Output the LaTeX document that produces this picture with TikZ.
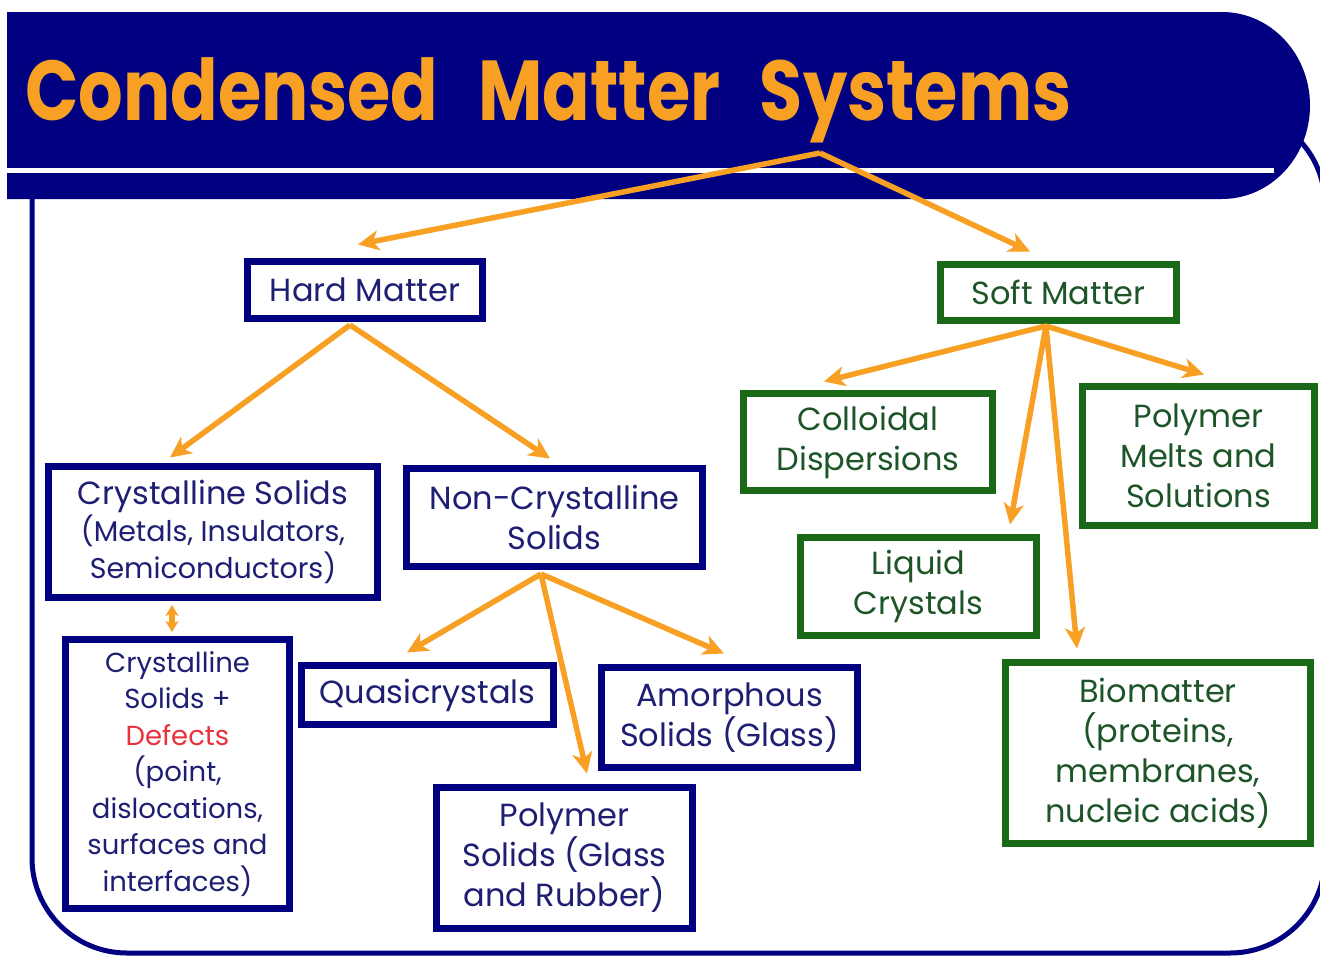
\documentclass[tikz,border=0pt]{standalone}
\usepackage{fontspec}
\setmainfont{Poppins}
\usetikzlibrary{arrows.meta,calc}
\definecolor{navy}{RGB}{0,0,128}
\definecolor{org}{RGB}{247,160,35}
\definecolor{txtblue}{RGB}{30,30,115}
\definecolor{grn}{RGB}{25,105,25}
\definecolor{txtgrn}{RGB}{30,85,40}
\definecolor{defred}{RGB}{232,50,60}
\begin{document}
\begin{tikzpicture}[x=1pt,y=-1pt,
  bluebox/.style={draw=navy,line width=7pt,fill=white,text=txtblue,align=center,inner sep=0pt,font=\fontsize{32}{40}\selectfont},
  greenbox/.style={bluebox,draw=grn,text=txtgrn},
  arr/.style={draw=org,line width=5.5pt,-{Stealth[length=21pt,width=20pt,inset=6pt]}},
  darr/.style={draw=org,line width=5.5pt,{Stealth[length=11pt,width=13pt,inset=3pt]}-{Stealth[length=11pt,width=13pt,inset=3pt]}}]
\useasboundingbox (0,0) rectangle (1320,956);
\fill[white] (0,0) rectangle (1320,956);
% frame
\begin{scope}
\clip (0,0) rectangle (1320,956);
\draw[navy,line width=5pt,rounded corners=95pt] (32,110) rectangle (1325,953);
\end{scope}
% banner
\fill[navy] (7,12) -- (1222,12) arc[start angle=-90,end angle=90,x radius=88,y radius=93.5] -- (7,199) -- cycle;
\fill[white] (7,168) rectangle (1274,173);
\node[anchor=base west,inner sep=0pt,text=org,font=\fontsize{85}{95}\selectfont\bfseries] (title) at (25,120) {\scalebox{0.825}[1]{Condensed\hspace{48pt}Matter\hspace{48pt}Systems}};
\coordinate (apex) at (820,153);
% boxes
\node[bluebox,minimum width=235pt,minimum height=57pt] (hard) at (365,290) {Hard Matter};
\node[greenbox,minimum width=236pt,minimum height=56pt] (soft) at (1058.5,292.5) {Soft Matter};
\node[bluebox,minimum width=329pt,minimum height=131pt] (cryst) at (213,532) {Crystalline Solids\\[-3pt]{\fontsize{28.5}{36}\selectfont (Metals, Insulators,}\\[-3pt]{\fontsize{28.5}{36}\selectfont Semiconductors)}};
\node[bluebox,minimum width=296pt,minimum height=98pt] (noncr) at (554.5,517.5) {Non-Crystalline\\Solids};
\node[bluebox,minimum width=224pt,minimum height=269pt,font=\fontsize{27.5}{36.5}\selectfont] (defects) at (177.5,774) {Crystalline\\Solids +\\\textcolor{defred}{Defects}\\(point,\\dislocations,\\surfaces and\\interfaces)};
\node[bluebox,minimum width=252pt,minimum height=59pt] (quasi) at (427.5,695) {Quasicrystals};
\node[bluebox,minimum width=256pt,minimum height=100pt] (amor) at (729.5,717.5) {Amorphous\\Solids (Glass)};
\node[bluebox,minimum width=256pt,minimum height=141pt] (polys) at (564.5,858) {Polymer\\Solids (Glass\\and Rubber)};
\node[greenbox,minimum width=249pt,minimum height=97pt] (coll) at (868,442) {Colloidal\\Dispersions};
\node[greenbox,minimum width=232pt,minimum height=139pt] (melts) at (1198.5,456) {Polymer\\Melts and\\Solutions};
\node[greenbox,minimum width=236pt,minimum height=98pt] (liq) at (918.5,586.5) {Liquid\\Crystals};
\node[greenbox,minimum width=305pt,minimum height=181pt] (bio) at (1158,753) {Biomatter\\(proteins,\\membranes,\\nucleic acids)};
% connectors
\draw[arr] (apex) -- ($(hard.north)+(-7,-13.5)$);
\draw[arr] (apex) -- ($(soft.north)+(-28.5,-9.5)$);
\draw[arr] ($(hard.south)+(-15,3)$) -- ($(cryst.north)+(-43,-5.5)$);
\draw[arr] ($(hard.south)+(-15,3)$) -- ($(noncr.north)+(-4.5,-6.5)$);
\draw[darr] ($(cryst.south)+(-41,4)$) -- ($(defects.north)+(-5.5,-4)$);
\draw[arr] ($(noncr.south)+(-13.5,4)$) -- ($(quasi.north)+(-20.5,-9.5)$);
\draw[arr] ($(noncr.south)+(-13.5,4)$) -- ($(polys.north)+(22.5,-10.5)$);
\draw[arr] ($(noncr.south)+(-13.5,4)$) -- ($(amor.north)+(-5.5,-10.5)$);
\draw[arr] ($(soft.south)+(-12.5,2)$) -- ($(coll.north)+(-44,-8.5)$);
\draw[arr] ($(soft.south)+(-12.5,2)$) -- ($(liq.north)+(91.5,-9.5)$);
\draw[arr] ($(soft.south)+(-12.5,2)$) -- ($(bio.north)+(-81,-10.5)$);
\draw[arr] ($(soft.south)+(-12.5,2)$) -- ($(melts.north)+(5.5,-8.5)$);
\end{tikzpicture}
\end{document}
